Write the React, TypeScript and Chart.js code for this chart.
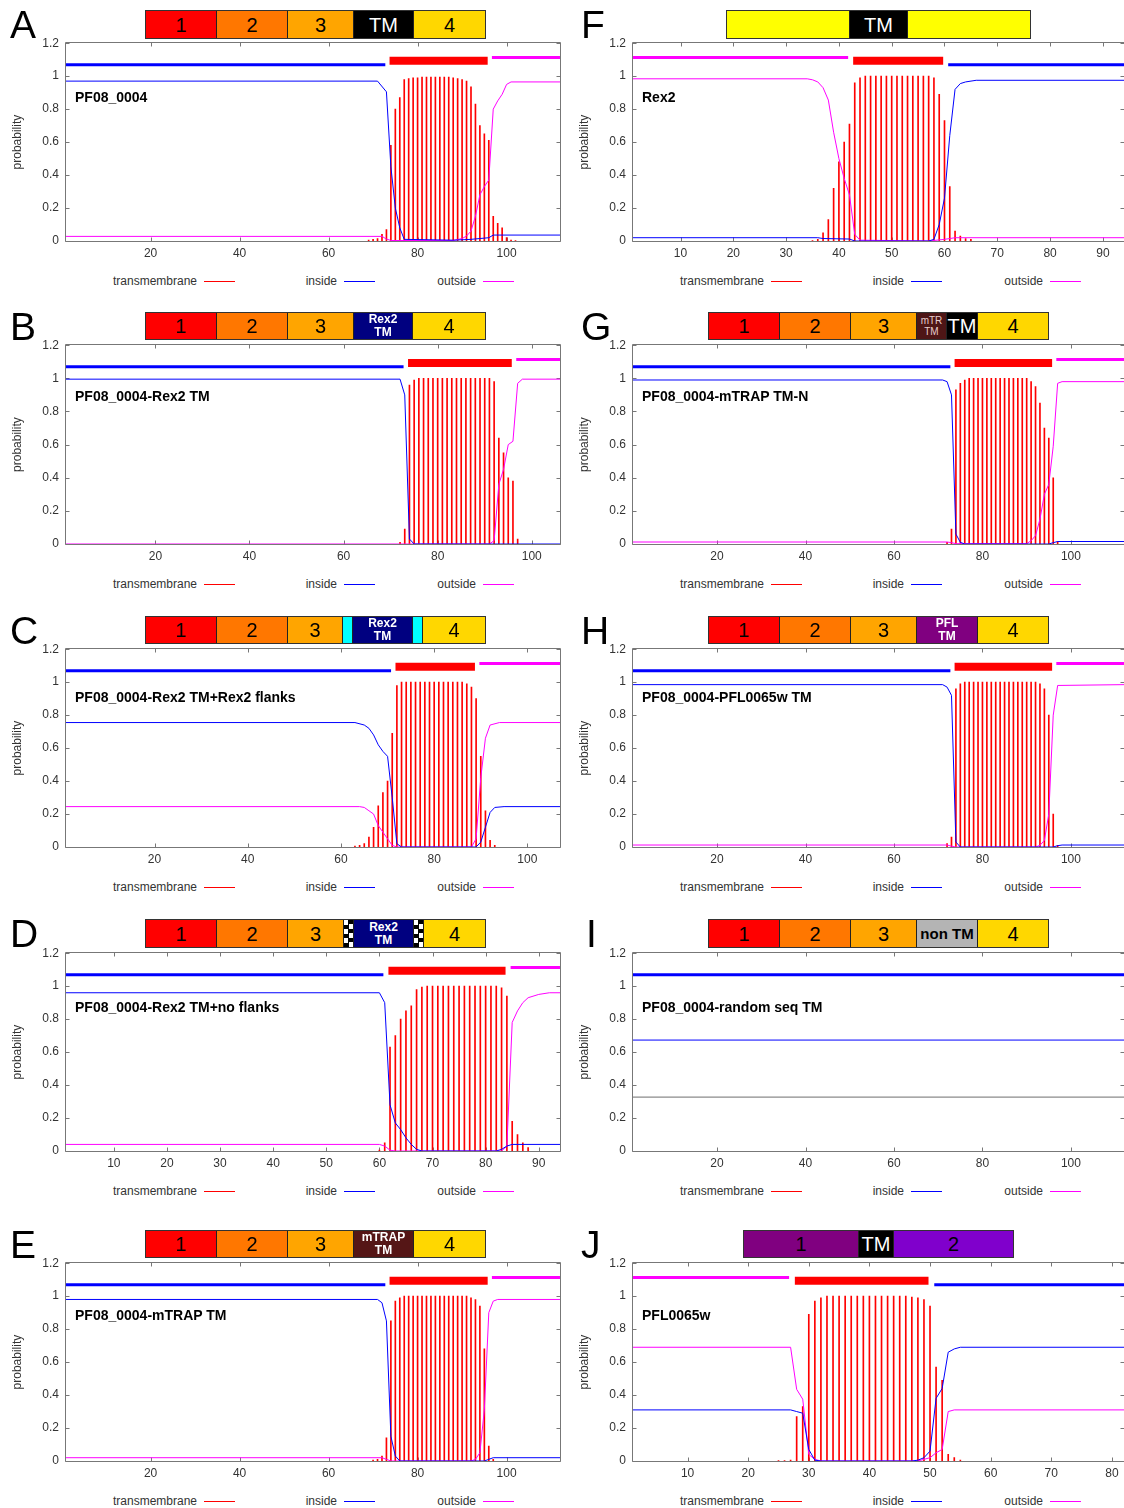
import React, { useEffect, useRef } from "react";
import { Chart, registerables } from "chart.js";
Chart.register(...registerables);

const FONT = "'Liberation Sans', Arial, Helvetica, sans-serif";

// ---------------- data ----------------
const yTicks = [0, 0.2, 0.4, 0.6, 0.8, 1, 1.2];
const legendLabels = ["transmembrane", "inside", "outside"];
type Pt = [number, number];
type Topo = [string, number, number];

// A
const aName = "PF08_0004";
const aLen = 112;
const aXTicks = [20, 40, 60, 80, 100];
const aTmStart = 69;
const aTm = [0.005, 0.01, 0.015, 0.04, 0.07, 0.58, 0.8, 0.87, 0.98, 0.985, 0.99, 0.99, 0.995, 0.995, 0.995, 0.995, 0.995, 0.995, 0.995, 0.99, 0.985, 0.98, 0.97, 0.935, 0.83, 0.7, 0.65, 0.61, 0.15, 0.107, 0.08, 0.02, 0.005, 0.003];
const aInside: Pt[] = [[1, 0.97], [71, 0.97], [73, 0.905], [74, 0.45], [75, 0.2], [76, 0.08], [77, 0.01], [88, 0.005], [92, 0.01], [96, 0.02], [97, 0.036], [112, 0.036]];
const aOutside: Pt[] = [[1, 0.028], [72, 0.028], [73, 0.012], [74, 0.003], [88, 0.003], [90, 0.015], [91, 0.03], [92, 0.06], [93, 0.15], [94, 0.28], [95, 0.33], [96, 0.37], [97, 0.8], [98, 0.85], [99, 0.89], [100, 0.95], [101, 0.965], [112, 0.965]];
const aTopo: Topo[] = [["in", 1, 73], ["tm", 74, 96], ["out", 97, 112]];

// B
const bName = "PF08_0004-Rex2 TM";
const bLen = 106;
const bXTicks = [20, 40, 60, 80, 100];
const bTmStart = 72;
const bTm = [0.01, 0.09, 0.96, 0.99, 1, 1, 1, 1, 1, 1, 1, 1, 1, 1, 1, 1, 1, 1, 1, 1, 0.98, 0.64, 0.55, 0.4, 0.38, 0.03];
const bInside: Pt[] = [[1, 0.995], [72, 0.995], [73, 0.9], [74, 0.03], [75, 0], [106, 0]];
const bOutside: Pt[] = [[1, 0], [91, 0], [92, 0.02], [93, 0.36], [94, 0.45], [95, 0.6], [96, 0.62], [97, 0.97], [98, 0.995], [106, 0.995]];
const bTopo: Topo[] = [["in", 1, 73], ["tm", 74, 96], ["out", 97, 106]];

// C
const cName = "PF08_0004-Rex2 TM+Rex2 flanks";
const cLen = 107;
const cXTicks = [20, 40, 60, 80, 100];
const cTmStart = 63;
const cTm = [0.005, 0.01, 0.02, 0.06, 0.12, 0.25, 0.33, 0.4, 0.69, 0.98, 1, 1, 1, 1, 1, 1, 1, 1, 1, 1, 1, 1, 1, 1, 0.99, 0.97, 0.9, 0.55, 0.22, 0.04, 0.01];
const cInside: Pt[] = [[1, 0.755], [63, 0.755], [65, 0.74], [66, 0.72], [67, 0.68], [68, 0.62], [69, 0.58], [70, 0.55], [71, 0.3], [72, 0.02], [73, 0], [89, 0], [90, 0.03], [91, 0.12], [92, 0.21], [93, 0.24], [95, 0.245], [107, 0.245]];
const cOutside: Pt[] = [[1, 0.245], [64, 0.245], [65, 0.24], [66, 0.22], [67, 0.2], [68, 0.13], [69, 0.09], [70, 0.05], [71, 0.01], [72, 0], [88, 0], [89, 0.05], [90, 0.42], [91, 0.66], [92, 0.74], [94, 0.755], [107, 0.755]];
const cTopo: Topo[] = [["in", 1, 71], ["tm", 72, 89], ["out", 90, 107]];

// D
const dName = "PF08_0004-Rex2 TM+no flanks";
const dLen = 94;
const dXTicks = [10, 20, 30, 40, 50, 60, 70, 80, 90];
const dTmStart = 60;
const dTm = [0.005, 0.05, 0.63, 0.7, 0.8, 0.85, 0.88, 0.98, 0.995, 1, 1, 1, 1, 1, 1, 1, 1, 1, 1, 1, 1, 1, 1, 0.99, 0.94, 0.18, 0.1, 0.05, 0.02];
const dInside: Pt[] = [[1, 0.96], [60, 0.96], [61, 0.9], [62, 0.28], [63, 0.17], [64, 0.13], [65, 0.08], [66, 0.04], [67, 0.01], [68, 0], [82, 0], [83, 0.01], [84, 0.03], [85, 0.04], [94, 0.04]];
const dOutside: Pt[] = [[1, 0.04], [60, 0.04], [61, 0.03], [62, 0.005], [63, 0], [83, 0], [84, 0.03], [85, 0.78], [86, 0.85], [87, 0.9], [88, 0.93], [90, 0.95], [92, 0.96], [94, 0.96]];
const dTopo: Topo[] = [["in", 1, 61], ["tm", 62, 84], ["out", 85, 94]];

// E
const eName = "PF08_0004-mTRAP TM";
const eLen = 112;
const eXTicks = [20, 40, 60, 80, 100];
const eTmStart = 70;
const eTm = [0.005, 0.01, 0.03, 0.14, 0.85, 0.97, 0.99, 1, 1, 1, 1, 1, 1, 1, 1, 1, 1, 1, 1, 1, 1, 1, 0.99, 0.98, 0.94, 0.68, 0.09, 0.01];
const eInside: Pt[] = [[1, 0.98], [71, 0.98], [72, 0.96], [73, 0.85], [74, 0.15], [75, 0.03], [76, 0], [95, 0], [96, 0.01], [97, 0.02], [112, 0.02]];
const eOutside: Pt[] = [[1, 0.02], [72, 0.02], [73, 0.01], [74, 0], [92, 0], [93, 0.01], [94, 0.05], [95, 0.31], [96, 0.9], [97, 0.97], [98, 0.98], [112, 0.98]];
const eTopo: Topo[] = [["in", 1, 73], ["tm", 74, 96], ["out", 97, 112]];

// F
const fName = "Rex2";
const fLen = 94;
const fXTicks = [10, 20, 30, 40, 50, 60, 70, 80, 90];
const fTmStart = 35;
const fTm = [0.003, 0.01, 0.05, 0.13, 0.32, 0.48, 0.6, 0.71, 0.96, 0.99, 1, 1, 1, 1, 1, 1, 1, 1, 1, 1, 1, 1, 1, 0.99, 0.89, 0.73, 0.33, 0.06, 0.03, 0.015, 0.01];
const fInside: Pt[] = [[1, 0.02], [36, 0.02], [37, 0.015], [42, 0.012], [43, 0], [57, 0], [58, 0.01], [59, 0.1], [60, 0.26], [61, 0.64], [62, 0.92], [63, 0.955], [64, 0.965], [66, 0.975], [94, 0.975]];
const fOutside: Pt[] = [[1, 0.984], [34, 0.984], [35, 0.978], [36, 0.965], [37, 0.93], [38, 0.855], [39, 0.66], [40, 0.5], [41, 0.38], [42, 0.28], [43, 0.04], [44, 0.005], [57, 0], [58, 0.003], [60, 0.01], [62, 0.02], [94, 0.02]];
const fTopo: Topo[] = [["out", 1, 42], ["tm", 43, 60], ["in", 61, 94]];

// G
const gName = "PF08_0004-mTRAP TM-N";
const gLen = 112;
const gXTicks = [20, 40, 60, 80, 100];
const gTmStart = 72;
const gTm = [0.01, 0.09, 0.93, 0.97, 0.99, 1, 1, 1, 1, 1, 1, 1, 1, 1, 1, 1, 1, 1, 1, 0.98, 0.95, 0.85, 0.7, 0.64, 0.4, 0.015];
const gInside: Pt[] = [[1, 0.99], [71, 0.99], [72, 0.98], [73, 0.9], [74, 0.06], [75, 0.01], [76, 0], [95, 0], [96, 0.008], [97, 0.015], [112, 0.015]];
const gOutside: Pt[] = [[1, 0.012], [72, 0.012], [73, 0.008], [74, 0.002], [90, 0.002], [91, 0.02], [92, 0.05], [93, 0.15], [94, 0.3], [95, 0.36], [96, 0.59], [97, 0.97], [98, 0.98], [112, 0.98]];
const gTopo: Topo[] = [["in", 1, 73], ["tm", 74, 96], ["out", 97, 112]];

// H
const hName = "PF08_0004-PFL0065w TM";
const hLen = 112;
const hXTicks = [20, 40, 60, 80, 100];
const hTmStart = 72;
const hTm = [0.02, 0.06, 0.96, 0.99, 1, 1, 1, 1, 1, 1, 1, 1, 1, 1, 1, 1, 1, 1, 1, 1, 1, 0.99, 0.96, 0.8, 0.2, 0.01];
const hInside: Pt[] = [[1, 0.985], [71, 0.985], [72, 0.97], [73, 0.92], [74, 0.03], [75, 0], [96, 0], [97, 0.008], [98, 0.012], [112, 0.012]];
const hOutside: Pt[] = [[1, 0.012], [72, 0.012], [73, 0.005], [74, 0], [92, 0], [93, 0.01], [94, 0.04], [95, 0.2], [96, 0.8], [97, 0.98], [112, 0.985]];
const hTopo: Topo[] = [["in", 1, 73], ["tm", 74, 96], ["out", 97, 112]];

// I
const iName = "PF08_0004-random seq TM";
const iLen = 112;
const iXTicks = [20, 40, 60, 80, 100];
const iTmStart = 1;
const iTm: number[] = [];
const iInside: Pt[] = [[1, 0.673], [112, 0.673]];
const iOutside: Pt[] = [[1, 0.327], [112, 0.327]];
const iTopo: Topo[] = [["in", 1, 112]];

// J
const jName = "PFL0065w";
const jLen = 82;
const jXTicks = [10, 20, 30, 40, 50, 60, 70, 80];
const jTmStart = 25;
const jTm = [0.003, 0.003, 0.005, 0.27, 0.33, 0.89, 0.97, 0.99, 1, 1, 1, 1, 1, 1, 1, 1, 1, 1, 1, 1, 1, 1, 0.995, 0.99, 0.98, 0.94, 0.57, 0.49, 0.04, 0.02, 0.005];
const jInside: Pt[] = [[1, 0.31], [27, 0.31], [28, 0.3], [29, 0.29], [30, 0.07], [31, 0.005], [32, 0], [47, 0], [48, 0.005], [49, 0.02], [50, 0.06], [51, 0.38], [52, 0.44], [53, 0.66], [54, 0.68], [55, 0.69], [82, 0.69]];
const jOutside: Pt[] = [[1, 0.69], [27, 0.69], [28, 0.435], [29, 0.375], [30, 0.04], [31, 0.01], [32, 0], [48, 0], [49, 0.01], [50, 0.02], [51, 0.05], [52, 0.07], [53, 0.3], [54, 0.31], [82, 0.31]];
const jTopo: Topo[] = [["out", 1, 27], ["tm", 28, 50], ["in", 51, 82]];

// ---------------- layout / style ----------------
const TOPO_LEVEL: Record<string, number> = { in: 1.07, tm: 1.093, out: 1.113 };
const TOPO_COLOR: Record<string, string> = { in: "#0000ff", tm: "#ff0000", out: "#ff00ff" };
const COLS = [
  { canvasLeft: 0, canvasRight: 562, plotLeft: 66, plotRight: 560, letterLeft: 10 },
  { canvasLeft: 567, canvasRight: 1124, plotLeft: 633, plotRight: 1124, letterLeft: 581 },
];
const ROW_TOP = [43, 345, 649, 953, 1263];
const ROW_BOTTOM = [241, 544, 847, 1151, 1461];
const ROW_TITLE = [97, 396, 697, 1007, 1315];
const ROW_BAR = [[10, 38], [312, 339], [616, 643], [919, 947], [1230, 1257]];

const SEG_STYLE: Record<string, any> = {
  d1: { bg: "#ff0000", color: "#000", size: 20 },
  d2: { bg: "#ff7700", color: "#000", size: 20 },
  d3: { bg: "#ffa500", color: "#000", size: 20 },
  d4: { bg: "#ffd700", color: "#000", size: 20 },
  tm: { bg: "#000000", color: "#fff", size: 20 },
  rex2: { bg: "#000080", color: "#fff", size: 12, bold: true },
  cyan: { bg: "#00ffff" },
  checker: { bg: "checker" },
  mtrap: { bg: "#551616", color: "#fff", size: 12, bold: true },
  mtr: { bg: "#4e1616", color: "#e6cccc", size: 10 },
  pfl: { bg: "#800080", color: "#fff", size: 12, bold: true },
  nontm: { bg: "#b4b4b4", color: "#000", size: 15, bold: true },
  yellow: { bg: "#ffff00" },
  j1: { bg: "#800080", color: "#000", size: 20 },
  j2: { bg: "#8000cc", color: "#000", size: 20 },
};
type Seg = [number, number, string, string];
const stdStart: Seg[] = [[145, 216, "d1", "1"], [216, 287, "d2", "2"]];

const panels = [
  { letter: "A", col: 0, row: 0, name: aName, len: aLen, xTicks: aXTicks, tmStart: aTmStart, tm: aTm, inside: aInside, outside: aOutside, topo: aTopo, outColor: "#ff00ff", letterDx: 0,
    segs: [...stdStart, [287, 353, "d3", "3"], [353, 413, "tm", "TM"], [413, 485, "d4", "4"]] as Seg[] },
  { letter: "B", col: 0, row: 1, name: bName, len: bLen, xTicks: bXTicks, tmStart: bTmStart, tm: bTm, inside: bInside, outside: bOutside, topo: bTopo, outColor: "#ff00ff", letterDx: 0,
    segs: [...stdStart, [287, 353, "d3", "3"], [353, 412, "rex2", "Rex2\nTM"], [412, 485, "d4", "4"]] as Seg[] },
  { letter: "C", col: 0, row: 2, name: cName, len: cLen, xTicks: cXTicks, tmStart: cTmStart, tm: cTm, inside: cInside, outside: cOutside, topo: cTopo, outColor: "#ff00ff", letterDx: 0,
    segs: [...stdStart, [287, 342, "d3", "3"], [342, 352, "cyan", ""], [352, 412, "rex2", "Rex2\nTM"], [412, 422, "cyan", ""], [422, 485, "d4", "4"]] as Seg[] },
  { letter: "D", col: 0, row: 3, name: dName, len: dLen, xTicks: dXTicks, tmStart: dTmStart, tm: dTm, inside: dInside, outside: dOutside, topo: dTopo, outColor: "#ff00ff", letterDx: 0,
    segs: [...stdStart, [287, 343, "d3", "3"], [343, 353, "checker", ""], [353, 413, "rex2", "Rex2\nTM"], [413, 423, "checker", ""], [423, 485, "d4", "4"]] as Seg[] },
  { letter: "E", col: 0, row: 4, name: eName, len: eLen, xTicks: eXTicks, tmStart: eTmStart, tm: eTm, inside: eInside, outside: eOutside, topo: eTopo, outColor: "#ff00ff", letterDx: 0,
    segs: [...stdStart, [287, 353, "d3", "3"], [353, 413, "mtrap", "mTRAP\nTM"], [413, 485, "d4", "4"]] as Seg[] },
  { letter: "F", col: 1, row: 0, name: fName, len: fLen, xTicks: fXTicks, tmStart: fTmStart, tm: fTm, inside: fInside, outside: fOutside, topo: fTopo, outColor: "#ff00ff", letterDx: 0,
    segs: [[726, 849, "yellow", ""], [849, 907, "tm", "TM"], [907, 1030, "yellow", ""]] as Seg[] },
  { letter: "G", col: 1, row: 1, name: gName, len: gLen, xTicks: gXTicks, tmStart: gTmStart, tm: gTm, inside: gInside, outside: gOutside, topo: gTopo, outColor: "#ff00ff", letterDx: 0,
    segs: [[708, 779, "d1", "1"], [779, 850, "d2", "2"], [850, 916, "d3", "3"], [916, 946, "mtr", "mTR\nTM"], [946, 977, "tm", "TM"], [977, 1048, "d4", "4"]] as Seg[] },
  { letter: "H", col: 1, row: 2, name: hName, len: hLen, xTicks: hXTicks, tmStart: hTmStart, tm: hTm, inside: hInside, outside: hOutside, topo: hTopo, outColor: "#ff00ff", letterDx: 0,
    segs: [[708, 779, "d1", "1"], [779, 850, "d2", "2"], [850, 916, "d3", "3"], [916, 977, "pfl", "PFL\nTM"], [977, 1048, "d4", "4"]] as Seg[] },
  { letter: "I", col: 1, row: 3, name: iName, len: iLen, xTicks: iXTicks, tmStart: iTmStart, tm: iTm, inside: iInside, outside: iOutside, topo: iTopo, outColor: "#6e6e6e", letterDx: 5,
    segs: [[708, 779, "d1", "1"], [779, 850, "d2", "2"], [850, 916, "d3", "3"], [916, 977, "nontm", "non TM"], [977, 1048, "d4", "4"]] as Seg[] },
  { letter: "J", col: 1, row: 4, name: jName, len: jLen, xTicks: jXTicks, tmStart: jTmStart, tm: jTm, inside: jInside, outside: jOutside, topo: jTopo, outColor: "#ff00ff", letterDx: 0,
    segs: [[743, 858, "j1", "1"], [858, 893, "tm", "TM"], [893, 1013, "j2", "2"]] as Seg[] },
];

const framePlugin = {
  id: "gpFrame",
  beforeDatasetsDraw(chart: any) {
    const { ctx, chartArea, scales } = chart;
    const L = Math.round(chartArea.left) - 0.5;
    const R = Math.round(chartArea.right) + 0.5;
    const T = Math.round(chartArea.top) - 0.5;
    const B = Math.round(chartArea.bottom) + 0.5;
    ctx.save();
    ctx.strokeStyle = "#777777";
    ctx.lineWidth = 1;
    ctx.beginPath();
    ctx.rect(L, T, R - L, B - T);
    scales.x.ticks.forEach((t: any) => {
      const px = Math.round(scales.x.getPixelForValue(t.value)) + 0.5;
      ctx.moveTo(px, B); ctx.lineTo(px, B - 4);
      ctx.moveTo(px, T); ctx.lineTo(px, T + 4);
    });
    scales.y.ticks.forEach((t: any) => {
      const py = Math.round(scales.y.getPixelForValue(t.value)) + 0.5;
      ctx.moveTo(L, py); ctx.lineTo(L + 4, py);
      ctx.moveTo(R, py); ctx.lineTo(R - 4, py);
    });
    ctx.stroke();
    ctx.restore();
  },
};

function PanelChart({ p }: { p: any }) {
  const ref = useRef<HTMLCanvasElement>(null);
  const col = COLS[p.col];
  const plotTop = ROW_TOP[p.row];
  const plotBottom = ROW_BOTTOM[p.row];
  const canvasTop = plotTop - 10;
  const xAxisH = 24;
  const width = col.canvasRight - col.canvasLeft;
  const height = plotBottom - canvasTop + xAxisH;

  useEffect(() => {
    const canvas = ref.current as HTMLCanvasElement;
    const makeConfig = () => {
      const datasets: any[] = [];
      p.topo.forEach(([k, s, e]: Topo) => {
        const y = TOPO_LEVEL[k];
        const x0 = s <= 1 ? 1 : s - 0.3;
        const x1 = e >= p.len ? p.len : e - 0.25;
        datasets.push({
          type: "line", data: [{ x: x0, y }, { x: x1, y }], borderColor: TOPO_COLOR[k],
          borderWidth: k === "tm" ? 8 : 3, pointRadius: 0, borderCapStyle: "butt", order: 1,
        });
      });
      datasets.push({
        type: "line", data: p.inside.map(([x, y]: Pt) => ({ x, y })), borderColor: "#0000ff",
        borderWidth: 1, pointRadius: 0, tension: 0, order: 2,
      });
      datasets.push({
        type: "line", data: p.outside.map(([x, y]: Pt) => ({ x, y })), borderColor: p.outColor,
        borderWidth: 1, pointRadius: 0, tension: 0, order: 2,
      });
      datasets.push({
        type: "bar", data: p.tm.map((v: number, i: number) => ({ x: p.tmStart + i, y: v })),
        backgroundColor: "#ff0000", barThickness: 1, order: 3,
      });
      const tickFont = { family: FONT, size: 12 };
      return {
        type: "line",
        data: { datasets },
        plugins: [framePlugin],
        options: {
          responsive: false,
          maintainAspectRatio: false,
          animation: false,
          events: [],
          layout: { padding: { top: 10, right: 2, left: 0, bottom: 0 } },
          plugins: { legend: { display: false }, tooltip: { enabled: false } },
          scales: {
            x: {
              type: "linear", min: 1, max: p.len, offset: false,
              grid: { display: false, drawTicks: false }, border: { display: false },
              ticks: { font: tickFont, color: "#333", padding: 5, maxRotation: 0, autoSkip: false },
              afterBuildTicks: (s: any) => { s.ticks = p.xTicks.map((v: number) => ({ value: v })); },
              afterFit: (s: any) => { s.height = xAxisH; },
            },
            y: {
              type: "linear", min: 0, max: 1.2,
              grid: { display: false, drawTicks: false }, border: { display: false },
              ticks: { font: tickFont, color: "#333", padding: 7, callback: (v: any) => String(+Number(v).toFixed(1)) },
              afterBuildTicks: (s: any) => { s.ticks = yTicks.map((v) => ({ value: v })); },
              title: { display: true, text: "probability", font: { family: FONT, size: 12 }, color: "#333", padding: { top: 10, bottom: 0 } },
              afterFit: (s: any) => { s.width = col.plotLeft - col.canvasLeft; },
            },
          },
        },
      } as any;
    };
    let chart = new Chart(canvas, makeConfig());
    let ca = chart.chartArea;
    const dw = Math.round((col.plotRight - col.plotLeft) - (ca.right - ca.left));
    const dh = Math.round((plotBottom - plotTop) - (ca.bottom - ca.top));
    if (dw !== 0 || dh !== 0) {
      chart.destroy();
      canvas.width = width + dw;
      canvas.height = height + dh;
      canvas.style.width = `${width + dw}px`;
      canvas.style.height = `${height + dh}px`;
      chart = new Chart(canvas, makeConfig());
      ca = chart.chartArea;
    }
    canvas.style.left = `${Math.round(col.plotLeft - ca.left)}px`;
    canvas.style.top = `${Math.round(plotTop - ca.top)}px`;
    return () => chart.destroy();
  }, []);

  return (
    <canvas ref={ref} width={width} height={height}
      style={{ position: "absolute", left: col.canvasLeft, top: canvasTop, width, height }} />
  );
}

function DomainBar({ segs, y0, y1 }: { segs: Seg[]; y0: number; y1: number }) {
  const left = segs[0][0];
  const right = segs[segs.length - 1][1];
  return (
    <div style={{ position: "absolute", left, top: y0, width: right - left + 1, height: y1 - y0 + 1, border: "1px solid #333", boxSizing: "border-box", display: "flex", overflow: "hidden" }}>
      {segs.map(([x0, x1, kind, label], i) => {
        const st = SEG_STYLE[kind];
        const bg = st.bg === "checker"
          ? { backgroundImage: "repeating-conic-gradient(#000 0% 25%, #fff 0% 50%)", backgroundSize: "9px 9px", backgroundColor: "#fff" }
          : { background: st.bg };
        const w = i === segs.length - 1 ? undefined : x1 - x0 - (i === 0 ? 1 : 0);
        return (
          <div key={i} style={{
            ...bg, boxSizing: "border-box", flex: w === undefined ? "1 1 0" : `0 0 ${w}px`,
            borderLeft: i > 0 ? "1px solid #222" : "none", display: "flex", alignItems: "center", justifyContent: "center",
            color: st.color, fontSize: st.size, fontWeight: st.bold ? 700 : 400, lineHeight: st.size <= 12 ? `${st.size + 1}px` : "1",
            textAlign: "center", whiteSpace: "pre", fontFamily: FONT,
          }}>{label}</div>
        );
      })}
    </div>
  );
}

function Panel({ p }: { p: any }) {
  const col = COLS[p.col];
  const base = ROW_BOTTOM[p.row];
  const legY = base + 40;
  const bar = ROW_BAR[p.row];
  const legItems = [
    { textRight: 131, x0: 138, color: "#ff0000" },
    { textRight: 271, x0: 278, color: "#0000ff" },
    { textRight: 410, x0: 417, color: "#ff00ff" },
  ];
  return (
    <>
      <PanelChart p={p} />
      <div style={{ position: "absolute", left: col.letterLeft + p.letterDx, top: bar[0] - 5, fontSize: 39, lineHeight: "39px", fontFamily: FONT, color: "#000" }}>{p.letter}</div>
      <DomainBar segs={p.segs} y0={bar[0]} y1={bar[1]} />
      <div style={{ position: "absolute", left: col.plotLeft + 9, top: ROW_TITLE[p.row] - 9, fontSize: 14, lineHeight: "18px", fontWeight: 700, fontFamily: FONT, color: "#000", whiteSpace: "nowrap" }}>{p.name}</div>
      {legItems.map((it, i) => (
        <React.Fragment key={i}>
          <div style={{ position: "absolute", left: col.plotLeft + it.textRight - 200, width: 200, top: legY - 8, lineHeight: "16px", fontSize: 12, fontFamily: FONT, color: "#333", textAlign: "right" }}>{legendLabels[i]}</div>
          <div style={{ position: "absolute", left: col.plotLeft + it.x0, top: legY, width: 31, height: 1, background: it.color }} />
        </React.Fragment>
      ))}
    </>
  );
}

export default function App() {
  return (
    <div style={{ position: "absolute", left: 0, top: 0, width: 1124, height: 1508, background: "#fff", overflow: "hidden" }}>
      {panels.map((p) => <Panel key={p.letter} p={p} />)}
    </div>
  );
}
